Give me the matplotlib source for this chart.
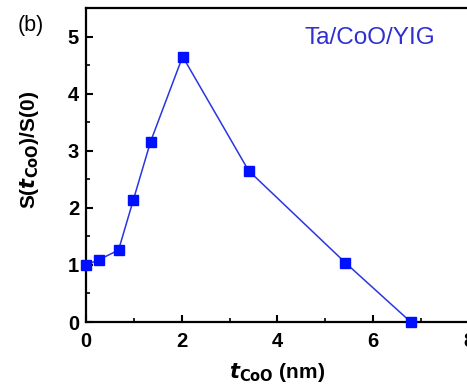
import matplotlib
matplotlib.use("Agg")
import matplotlib.pyplot as plt
from matplotlib.ticker import MultipleLocator

plt.rcParams['font.family'] = ['Liberation Sans', 'DejaVu Sans']

# CoO thickness (nm) and normalized signal
t_coo = [0.0, 0.27, 0.68, 0.99, 1.35, 2.02, 3.40, 5.42, 6.79]
s_ratio = [1.0, 1.09, 1.26, 2.14, 3.16, 4.65, 2.65, 1.04, 0.0]

x_ticks = [0, 2, 4, 6, 8]
y_ticks = [0, 1, 2, 3, 4, 5]

fig = plt.figure(figsize=(4.67, 3.88), dpi=100)
ax = fig.add_axes([0.1842, 0.1701, 0.8193, 0.8093])

ax.plot(t_coo, s_ratio, color='#2a35e0', lw=1.1, marker='s', ms=7,
        mfc='#0010ff', mec='#0010ff', clip_on=False, zorder=3)

ax.set_xlim(0, 8)
ax.set_ylim(0, 5.5)
ax.set_xticks(x_ticks)
ax.set_yticks(y_ticks)
ax.xaxis.set_minor_locator(MultipleLocator(1))
ax.yaxis.set_minor_locator(MultipleLocator(0.5))
ax.tick_params(which='major', direction='in', length=5, width=1.5,
               labelsize=14.5, pad=5, top=False, right=False)
ax.tick_params(axis='x', which='major', pad=7)
ax.tick_params(which='minor', direction='in', length=3, width=1.2,
               top=False, right=False)
for lbl in ax.get_xticklabels() + ax.get_yticklabels():
    lbl.set_fontweight('bold')
for sp in ax.spines.values():
    sp.set_linewidth(1.6)

ax.set_xlabel(r'$\boldsymbol{t}_{\mathbf{CoO}}$ (nm)', fontsize=15,
              fontweight='bold')
ax.set_ylabel(r'S($\boldsymbol{t}_{\mathbf{CoO}}$)/S(0)', fontsize=15,
              fontweight='bold')
ax.xaxis.set_label_coords(0.5, -0.125)
ax.yaxis.set_label_coords(-0.118, 0.548)

ax.text(0.742, 0.904, 'Ta/CoO/YIG', transform=ax.transAxes, color='#3030d0',
        fontsize=17.5, ha='center', va='center')
fig.text(0.066, 0.935, '(b)', fontsize=15.5, ha='center', va='center')

fig.savefig('out.png', dpi=100)
